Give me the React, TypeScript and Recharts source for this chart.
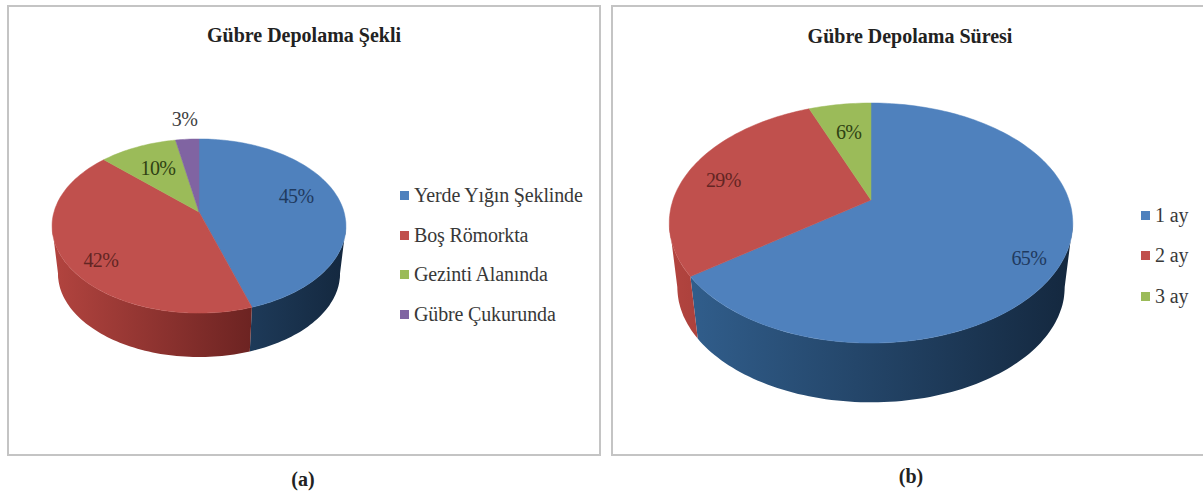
import React from 'react';
import { PieChart, Pie, Legend } from 'recharts';

const storageShapes = ['Yerde Yığın Şeklinde', 'Boş Römorkta', 'Gezinti Alanında', 'Gübre Çukurunda'];
const storageShapeShares = [45, 42, 10, 3];
const storageShapeReach = [0.69, 0.75, 0.64, 1.28];
const storageShapeLift = [7, -12, 0, 3];

const storageTimes = ['1 ay', '2 ay', '3 ay'];
const storageTimeShares = [65, 29, 6];
const storageTimeReach = [0.83, 0.81, 0.68];
const storageTimeLift = [-11, -5, 0];

const faceColors = ['#4f81bd', '#c0504d', '#9bbb59', '#8064a2'];
const wallLight = ['#32608f', '#b2443f', '#8aa64e', '#6f558f'];
const wallDark = ['#14283f', '#4c1414', '#4d5f2b', '#40315a'];
const labelColors = ['#1f3a5f', '#632523', '#2f4213', '#404040'];

interface Tilt {
  ry: number;
  persp: number;
  depth: number;
  shrink: number;
}

// Projects a point of the flat pie onto the tilted plane; far side is squeezed by persp
const project = (cx: number, cy: number, rx: number, t: Tilt, theta: number, reach = 1) => {
  const u = Math.sin(theta) * reach;
  const v = Math.cos(theta) * reach;
  const w = 1 + t.persp * v;
  return { x: cx + (rx * u) / w, y: cy - (t.ry * v) / w };
};

const sectorShape = (id: string, t: Tilt) => (props: any) => {
  const { cx, cy, outerRadius, startAngle, endAngle, index } = props;
  const a0 = ((90 - startAngle) * Math.PI) / 180;
  const a1 = ((90 - endAngle) * Math.PI) / 180;
  const rim = (from: number, to: number) => {
    const n = Math.max(2, Math.ceil(Math.abs(to - from) * 40));
    return Array.from({ length: n + 1 }, (_, i) =>
      project(cx, cy, outerRadius, t, from + ((to - from) * i) / n),
    );
  };
  const top = rim(a0, a1);
  const facePath =
    `M${cx},${cy}` + top.map((p) => `L${p.x.toFixed(1)},${p.y.toFixed(1)}`).join('') + 'Z';

  // only the part of the rim between the two silhouette points shows a wall
  const frontFrom = Math.acos(-t.persp);
  const frontTo = 2 * Math.PI - frontFrom;
  const w0 = Math.max(a0, frontFrom);
  const w1 = Math.min(a1, frontTo);
  let wallPath = '';
  if (w1 > w0) {
    const upper = rim(w0, w1);
    const lower = [...upper].reverse().map((p) => ({
      x: cx + (p.x - cx) * t.shrink,
      y: cy + (p.y - cy) * t.shrink + t.depth,
    }));
    wallPath =
      'M' + [...upper, ...lower].map((p) => `${p.x.toFixed(1)},${p.y.toFixed(1)}`).join('L') + 'Z';
  }
  return (
    <g>
      {wallPath && <path d={wallPath} fill={`url(#${id}-wall-${index})`} />}
      <path d={facePath} fill={faceColors[index]} stroke={faceColors[index]} strokeWidth={0.5} />
    </g>
  );
};

const percentLabel = (t: Tilt, reach: number[], lift: number[]) => (props: any) => {
  const { cx, cy, outerRadius, midAngle, index, value } = props;
  const p = project(cx, cy, outerRadius, t, ((90 - midAngle) * Math.PI) / 180, reach[index]);
  return (
    <text
      x={p.x}
      y={p.y - lift[index]}
      textAnchor="middle"
      dominantBaseline="central"
      fontFamily="'Liberation Serif', serif"
      fontSize={20}
      fill={labelColors[index]}
      style={{ letterSpacing: '-0.6px' }}
    >
      {value}%
    </text>
  );
};

const legendContent = (rowGap: number) => ({ payload }: any) => (
  <div style={{ fontFamily: "'Liberation Serif', serif", fontSize: 20, color: '#383838', letterSpacing: '-0.15px' }}>
    {(payload || []).map((item: any) => (
      <div key={item.value} style={{ display: 'flex', alignItems: 'center', height: rowGap, whiteSpace: 'nowrap' }}>
        <span style={{ width: 9, height: 9, background: item.color, marginRight: 5 }} />
        <span>{item.value}</span>
      </div>
    ))}
  </div>
);

interface PiePanelProps {
  id: string;
  left: number;
  title: string;
  titleCenter: number;
  titleTop: number;
  names: string[];
  shares: number[];
  reach: number[];
  lift: number[];
  cx: number;
  cy: number;
  radius: number;
  tilt: Tilt;
  legendLeft: number;
  legendTop: number;
  rowGap: number;
}

const PiePanel: React.FC<PiePanelProps> = ({
  id, left, title, titleCenter, titleTop, names, shares, reach, lift, cx, cy, radius, tilt, legendLeft, legendTop, rowGap,
}) => {
  const data = names.map((name, i) => ({ name, value: shares[i], fill: faceColors[i] }));
  return (
    <div
      style={{
        position: 'absolute', left, top: 5, width: 590, height: 447,
        border: '2px solid #c4c4c4', background: '#fff',
      }}
    >
      <div
        style={{
          position: 'absolute', left: titleCenter - 150, width: 300, top: titleTop, textAlign: 'center',
          fontFamily: "'Liberation Serif', serif", fontWeight: 'bold', fontSize: 20, color: '#222',
          lineHeight: '24px',
        }}
      >
        {title}
      </div>
      <PieChart width={590} height={447} margin={{ top: 0, right: 0, bottom: 0, left: 0 }} style={{ position: 'absolute', left: 0, top: 0 }}>
        <defs>
          {names.map((_, i) => (
            <linearGradient
              key={i}
              id={`${id}-wall-${i}`}
              gradientUnits="userSpaceOnUse"
              x1={cx - radius}
              x2={cx + radius}
              y1={0}
              y2={0}
            >
              <stop offset="0%" stopColor={wallLight[i]} />
              <stop offset="100%" stopColor={wallDark[i]} />
            </linearGradient>
          ))}
        </defs>
        <Pie
          data={data}
          dataKey="value"
          nameKey="name"
          cx={cx}
          cy={cy}
          outerRadius={radius}
          startAngle={90}
          endAngle={-270}
          stroke="none"
          isAnimationActive={false}
          shape={sectorShape(id, tilt)}
          label={percentLabel(tilt, reach, lift)}
          labelLine={false}
        />
        <Legend
          layout="vertical"
          itemSorter={null}
          content={legendContent(rowGap)}
          wrapperStyle={{ left: legendLeft, top: legendTop, width: 'auto' }}
        />
      </PieChart>
    </div>
  );
};

const caption: React.CSSProperties = {
  position: 'absolute', width: 60, textAlign: 'center',
  fontFamily: "'Liberation Serif', serif", fontWeight: 'bold', fontSize: 20, color: '#222',
};

export default function App() {
  return (
    <div style={{ position: 'absolute', left: 0, top: 0, width: 1203, height: 498, overflow: 'hidden', background: '#fff' }}>
      <PiePanel
        id="shape"
        left={7}
        title="Gübre Depolama Şekli"
        titleCenter={295}
        titleTop={16}
        names={storageShapes}
        shares={storageShapeShares}
        reach={storageShapeReach}
        lift={storageShapeLift}
        cx={190}
        cy={205}
        radius={145}
        tilt={{ ry: 84.8, persp: 0.161, depth: 48, shrink: 0.96 }}
        legendLeft={391}
        legendTop={169}
        rowGap={39.5}
      />
      <PiePanel
        id="time"
        left={611}
        title="Gübre Depolama Süresi"
        titleCenter={297}
        titleTop={17}
        names={storageTimes}
        shares={storageTimeShares}
        reach={storageTimeReach}
        lift={storageTimeLift}
        cx={258}
        cy={193}
        radius={198}
        tilt={{ ry: 115.6, persp: 0.192, depth: 65, shrink: 0.96 }}
        legendLeft={528}
        legendTop={188}
        rowGap={40.5}
      />
      <div style={{ ...caption, left: 273, top: 468 }}>(a)</div>
      <div style={{ ...caption, left: 881, top: 465 }}>(b)</div>
    </div>
  );
}
